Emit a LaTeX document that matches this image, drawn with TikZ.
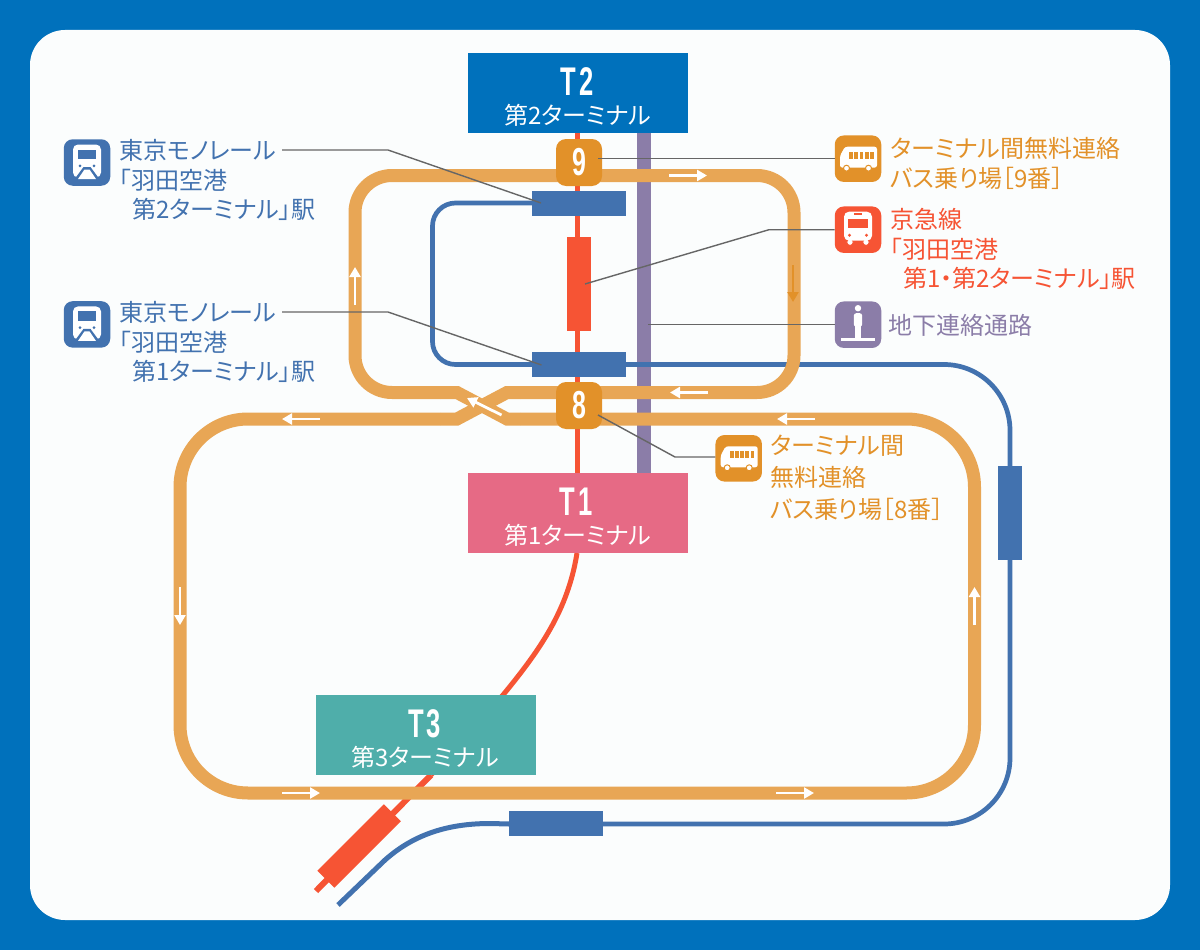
\documentclass[tikz,border=0pt]{standalone}
\usepackage{fontspec}
\usetikzlibrary{arrows.meta}
\newfontfamily\jpfont[RawFeature={+palt}]{Noto Sans CJK JP}
\newfontfamily\termfont[FakeStretch=0.64]{Liberation Sans Bold}
\definecolor{skyblue}{HTML}{0071BC}
\definecolor{paper}{HTML}{FBFDFD}
\definecolor{monoblue}{HTML}{4272AF}
\definecolor{keired}{HTML}{F65434}
\definecolor{buslight}{HTML}{E8A655}
\definecolor{busdark}{HTML}{E29129}
\definecolor{walkpurple}{HTML}{8B7DA8}
\definecolor{t1pink}{HTML}{E66A85}
\definecolor{t3teal}{HTML}{4FAEAA}
\definecolor{leadgray}{HTML}{666666}

\begin{document}
\begin{tikzpicture}[x=1pt,y=-1pt]
\tikzset{
  terminal/.style={fill=#1,text=white,minimum width=220pt,minimum height=80pt,inner sep=0pt},
  badge/.style={fill=busdark,text=white,rounded corners=10pt,minimum width=46pt,minimum height=47pt,inner sep=0pt,font=\termfont\fontsize{39}{39}\selectfont},
  station/.style={fill=monoblue,minimum width=94pt,minimum height=25pt,inner sep=0pt},
  iconbox/.style={fill=#1,rounded corners=9pt,minimum size=46.5pt,inner sep=0pt},
  label/.style={text=#1,anchor=west,align=left,inner sep=0pt,font=\jpfont\fontsize{24}{29.7}\selectfont},
  termname/.style={text=white,inner sep=0pt,font=\termfont\fontsize{40}{40}\selectfont},
  termsub/.style={text=white,inner sep=0pt,font=\jpfont\fontsize{24}{24}\selectfont},
  busroute/.style={draw=buslight,line width=13pt,line join=miter},
  monoline/.style={draw=monoblue,line width=4.7pt},
  redline/.style={draw=keired,line width=5pt},
  lead/.style={draw=leadgray,line width=1.4pt},
  flow/.style={draw=white,line width=2.8pt,-{Triangle[length=10pt,width=11pt]}},
  monoicon/.pic={
    \fill[white,rounded corners=5pt] (-14,15) -- (-14,-18) -- (14,-18) -- (14,15) -- cycle;
    \fill[monoblue] (-9,-13) rectangle (9,-3.5);
    \fill[monoblue] (-7,3.3) circle (1.5);
    \fill[monoblue] (7,3.3) circle (1.5);
    \fill[monoblue] (-3.5,4.5) -- (3.5,4.5) -- (12,16) -- (-12,16) -- cycle;
    \fill[white] (-2.5,7) -- (2.5,7) -- (9,16.5) -- (-9,16.5) -- cycle;
  },
  busicon/.pic={
    \fill[white,rounded corners=2.5pt] (-18,9) -- (-18,-3) -- (-13,-12) -- (19,-12) -- (19,9) -- cycle;
    \foreach \wx in {-7,-1.8,3.4,8.6,13.8} \fill[busdark] (\wx-1.9,-7) rectangle (\wx+1.9,0);
    \foreach \wx in {-11.5,10.5} \fill[white,draw=busdark,line width=1pt] (\wx,9.5) circle (3);
  },
  keiicon/.pic={
    \foreach \wx in {-8,8} \fill[white,draw=keired,line width=1pt] (\wx,12.5) circle (3.3);
    \fill[white,rounded corners=5pt] (-14,11) -- (-14,-18) -- (14,-18) -- (14,11) -- cycle;
    \fill[keired] (-10,-11) rectangle (10,-2);
    \fill[keired] (-4,-16.5) rectangle (4,-15);
    \foreach \wx in {-8.5,8.5} \fill[keired] (\wx,5.5) circle (1.6);
  },
  walkicon/.pic={
    \fill[white] (0,-16.5) circle (3.2);
    \fill[white,rounded corners=2.5pt] (-4.2,2) -- (-4.2,-11.5) -- (4.2,-11.5) -- (4.2,2) -- cycle;
    \fill[white] (-2.6,0) rectangle (2.6,14);
    \fill[white] (-17,13.5) rectangle (17,16);
  }
}
\useasboundingbox (0,0) rectangle (1200,950);
\fill[skyblue] (0,0) rectangle (1200,950);
\fill[paper,rounded corners=35pt] (30,30) rectangle (1170,920);

% keikyu line and walkway
\draw[redline] (577.7,133) -- (577.7,473);
\draw[redline] (577,553) .. controls (568,610) and (540,650) .. (503,695) -- (431,775);
\draw[redline,line width=6pt] (431,775) -- (316,891);
\draw[walkpurple,line width=14.5pt] (644,133) -- (644,473);

% monorail
\draw[monoline,rounded corners=23pt] (532,203) -- (432.5,203) -- (432.5,364.5) -- (532,364.5);
\draw[monoline,rounded corners=66pt] (626,364.5) -- (1010,364.5) -- (1010,824) -- (509,824);
\draw[monoline,line width=5pt] (509,824) -- (490,823.5) .. controls (445,823.5) and (412,836) .. (385,860) -- (338,905);

% bus loop
\draw[busroute,rounded corners=37pt] (520,392.5) -- (794,392.5) -- (794,175.5) -- (355,175.5) -- (355,392.5) -- (440,392.5);
\draw[busroute,rounded corners=68pt] (520,419) -- (974.5,419) -- (974.5,793) -- (180,793) -- (180,419) -- (440,419);
\draw[busroute] (440,392.5) -- (457,392.5) -- (507,419) -- (520,419);
\draw[busroute] (440,419) -- (457,419) -- (507,392.5) -- (520,392.5);

% direction arrows
\draw[flow] (669,175.5) -- (707,175.5);
\draw[flow] (708,392.5) -- (670,392.5);
\draw[flow] (815,419) -- (777,419);
\draw[flow] (320,419) -- (282,419);
\draw[flow] (282,793) -- (320,793);
\draw[flow] (776,793) -- (814,793);
\draw[flow] (355,305) -- (355,267);
\draw[flow] (180,587) -- (180,625);
\draw[flow] (974.5,625) -- (974.5,587);
\draw[flow] (501.5,415) -- (467,398);
\draw[flow,draw=busdark] (793,265) -- (793,302);

% stations
\node[station] (monotwo) at (579,203.5) {};
\node[station] (monoone) at (579,364.5) {};
\node[station,minimum width=24pt,minimum height=94pt] (monoeast) at (1010,513) {};
\node[station] (monosouth) at (556,823.5) {};
\node[fill=keired,minimum width=24pt,minimum height=94pt,inner sep=0pt] (keistation) at (579,284) {};
\node[fill=keired,minimum width=94pt,minimum height=24pt,inner sep=0pt,rotate=45] (keiend) at (359.2,846) {};

% terminals
\node[terminal=skyblue] (ttwo) at (578,93) {};
\node[terminal=t1pink] (tone) at (578,513) {};
\node[terminal=t3teal] (tthree) at (425.7,735) {};
\node[termname] (ttwoname) at (577,81.5) {T\kern3pt 2};
\node[termsub] (ttwosub) at (578,115) {第2ターミナル};
\node[termname] (tonename) at (576,501.5) {T\kern3pt 1};
\node[termsub] (tonesub) at (578,535) {第1ターミナル};
\node[termname] (tthreename) at (424.5,723.5) {T\kern3pt 3};
\node[termsub] (tthreesub) at (425.3,757) {第3ターミナル};

% bus stops
\node[badge] (stopnine) at (579,162.5) {9};
\node[badge] (stopeight) at (579,405.5) {8};

% icons
\node[iconbox=monoblue] (iconmonotwo) at (87,162.5) {};
\pic at (iconmonotwo) {monoicon};
\node[iconbox=monoblue] (iconmonoone) at (87,324.4) {};
\pic at (iconmonoone) {monoicon};
\node[iconbox=busdark] (iconnine) at (858,158.7) {};
\pic at (iconnine) {busicon};
\node[iconbox=keired] (iconkei) at (858,229.7) {};
\pic at (iconkei) {keiicon};
\node[iconbox=walkpurple] (iconwalk) at (858,324.7) {};
\pic at (iconwalk) {walkicon};
\node[iconbox=busdark] (iconeight) at (738.7,458.3) {};
\pic at (iconeight) {busicon};

% labels
\node[label=monoblue] (textmonotwo) at (119,180) {東京モノレール\\「羽田空港\\\hspace*{13pt}第2ターミナル」駅};
\node[label=monoblue] (textmonoone) at (119,342) {東京モノレール\\「羽田空港\\\hspace*{13pt}第1ターミナル」駅};
\node[label=busdark] (textnine) at (890,163.5) {ターミナル間無料連絡\\バス乗り場［9番］};
\node[label=keired] (textkei) at (890,249) {京急線\\「羽田空港\\\hspace*{13pt}第1・第2ターミナル」駅};
\node[label=walkpurple] (textwalk) at (888,325) {地下連絡通路};
\node[label=busdark,font=\jpfont\fontsize{24}{32}\selectfont] (texteight) at (770,478) {ターミナル間\\無料連絡\\バス乗り場［8番］};

% leaders
\coordinate (bendtwo) at (388,150);
\coordinate (bendone) at (388,312);
\coordinate (bendkei) at (769,229.7);
\coordinate (bendeight) at (675,457);
\coordinate (endtwo) at (541,203);
\coordinate (endone) at (541.5,365);
\coordinate (endkei) at (585,284);
\coordinate (endnine) at (598,158.5);
\coordinate (endwalk) at (648,324.7);
\coordinate (endeight) at (598,415);
\coordinate (starttwo) at (282,150);
\coordinate (startone) at (282,312);
\draw[lead] (starttwo) -- (bendtwo) -- (endtwo);
\draw[lead] (startone) -- (bendone) -- (endone);
\draw[lead] (iconkei.west) -- (bendkei) -- (endkei);
\draw[lead] (iconwalk.west) -- (endwalk);
\draw[lead] (iconnine.west |- endnine) -- (endnine);
\draw[lead] (iconeight.west |- bendeight) -- (bendeight) -- (endeight);
\end{tikzpicture}
\end{document}
